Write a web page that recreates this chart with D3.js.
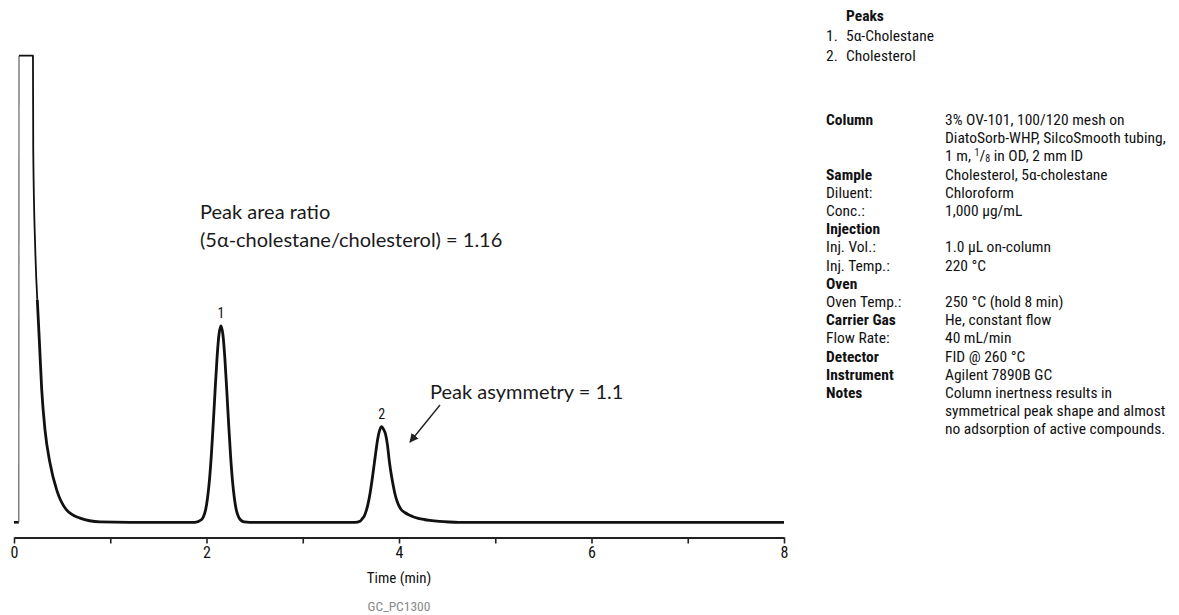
<!DOCTYPE html>
<html>
<head>
<meta charset="utf-8">
<script src="https://cdn.jsdelivr.net/npm/d3@7"></script>
<style>
  html, body { margin: 0; padding: 0; background: #fff; }
  svg { display: block; }
  .cond { font-family: "Liberation Sans Narrow", "Roboto Condensed", Roboto, sans-serif; }
  .note { font-family: Lato, "Open Sans", sans-serif; }
</style>
</head>
<body>
<svg id="chart" width="1179" height="615"></svg>
<script>
// Chromatogram trace: retention time (min) and detector signal (% of plotted full scale)
const traceTime = [
  0, 0.05, 0.052, 0.197, 0.200, 0.221, 0.242, 0.263, 0.288, 0.322, 0.374, 0.444, 0.548, 0.686, 0.894, 1.205,
  1.60, 1.88, 1.95, 1.97, 1.99, 2.01, 2.03, 2.05, 2.07, 2.09, 2.11, 2.13, 2.15, 2.17, 2.19, 2.21, 2.23, 2.25,
  2.27, 2.29, 2.31, 2.33, 2.35, 2.39, 2.45,
  3.00, 3.54, 3.60, 3.62, 3.64, 3.66, 3.68, 3.70, 3.72, 3.74, 3.76, 3.78, 3.80, 3.82, 3.84, 3.86, 3.88, 3.90,
  3.92, 3.94, 3.96, 3.98, 4.00, 4.02, 4.06, 4.10, 4.14, 4.20, 4.26, 4.32, 4.42, 4.52, 4.62, 6.00, 8.00
];
const traceSignal = [
  0, 0, 100, 100, 79.8, 58.4, 47.7, 39.1, 28.4, 19.8, 12.7, 6.9, 2.6, 0.9, 0.1, 0,
  0, 0, 0.6, 1.3, 2.6, 5.1, 8.9, 14.3, 21.1, 28.5, 35.4, 40.3, 42.1, 40.3, 35.4, 28.5, 21.1, 14.3,
  8.9, 5.1, 2.6, 1.3, 0.6, 0.1, 0,
  0, 0, 0.3, 0.8, 1.4, 2.5, 4.1, 6.3, 9.0, 12.1, 15.2, 18.0, 19.8, 20.5, 19.9, 18.9, 16.6, 13.0,
  10.2, 7.9, 5.9, 4.5, 3.5, 2.8, 2.1, 1.6, 1.25, 0.86, 0.6, 0.4, 0.18, 0.06, 0, 0, 0
];

// Numbered peaks
const peakNumbers = ["1", "2"];
const peakTimes = [2.15, 3.82];
const peakHeights = [42.1, 20.5];
const peakNames = ["5α-Cholestane", "Cholesterol"];

// Time axis
const timeTicks = [0, 1, 2, 3, 4, 5, 6, 7, 8];
const timeTickLabels = ["0", "", "2", "", "4", "", "6", "", "8"];

// Method conditions table
const conditionLabels = ["Column", "", "", "Sample", "Diluent:", "Conc.:", "Injection", "Inj. Vol.:", "Inj. Temp.:",
  "Oven", "Oven Temp.:", "Carrier Gas", "Flow Rate:", "Detector", "Instrument", "Notes", "", ""];
const conditionValues = ["3% OV-101, 100/120 mesh on", "DiatoSorb-WHP, SilcoSmooth tubing,", "FRACTION",
  "Cholesterol, 5α-cholestane", "Chloroform", "1,000 µg/mL", "", "1.0 µL on-column", "220 °C",
  "", "250 °C (hold 8 min)", "He, constant flow", "40 mL/min", "FID @ 260 °C", "Agilent 7890B GC",
  "Column inertness results in", "symmetrical peak shape and almost", "no adsorption of active compounds."];
const conditionBold = [true, false, false, true, false, false, true, false, false,
  true, false, true, false, true, true, true, false, false];

const svg = d3.select("#chart");

const x = d3.scaleLinear().domain([0, 8]).range([14, 784]);
const y = d3.scaleLinear().domain([0, 100]).range([522.3, 55.7]);

// x axis
const axisY = 537.5;
const xAxis = d3.axisBottom(x)
  .tickValues(timeTicks)
  .tickFormat((d, i) => timeTickLabels[i])
  .tickSize(6)
  .tickSizeOuter(0)
  .tickPadding(3);

const gx = svg.append("g")
  .attr("transform", `translate(0,${axisY})`)
  .call(xAxis);
gx.select(".domain").attr("stroke", "#222").attr("stroke-width", 1.8);
gx.selectAll(".tick line").attr("stroke", "#222").attr("stroke-width", 1.6);
gx.selectAll(".tick text")
  .attr("class", "cond")
  .attr("font-size", 16)
  .attr("fill", "#111");

svg.append("text")
  .attr("class", "cond")
  .attr("x", 399).attr("y", 583)
  .attr("text-anchor", "middle")
  .attr("font-size", 15)
  .attr("fill", "#111")
  .text("Time (min)");

svg.append("text")
  .attr("class", "cond")
  .attr("x", 399).attr("y", 611)
  .attr("text-anchor", "middle")
  .attr("font-size", 13.5)
  .attr("fill", "#8a8a8a")
  .text("GC_PC1300");

// trace: short baseline lead-in, thin solvent front, then the rest of the signal
const traceData = traceTime.map((t, i) => ({ t, v: traceSignal[i] }));
const line = d3.line()
  .x(d => x(d.t))
  .y(d => y(d.v))
  .curve(d3.curveMonotoneX);

svg.append("path")
  .datum(traceData.slice(0, 2))
  .attr("d", line)
  .attr("fill", "none")
  .attr("stroke", "#111")
  .attr("stroke-width", 2.6);

svg.append("path")
  .datum(traceData.slice(1, 3))
  .attr("d", line)
  .attr("fill", "none")
  .attr("stroke", "#555")
  .attr("stroke-width", 1.1);

svg.append("path")
  .datum(traceData.slice(2, 7))
  .attr("d", line)
  .attr("fill", "none")
  .attr("stroke", "#111")
  .attr("stroke-width", 1.8)
  .attr("stroke-linejoin", "round");

svg.append("path")
  .datum(traceData.slice(6))
  .attr("d", line)
  .attr("fill", "none")
  .attr("stroke", "#111")
  .attr("stroke-width", 2.8)
  .attr("stroke-linejoin", "round");

// peak numbers
svg.selectAll(".peaknum")
  .data(peakNumbers)
  .join("text")
  .attr("class", "cond peaknum")
  .attr("x", (d, i) => x(peakTimes[i]))
  .attr("y", (d, i) => y(peakHeights[i]) - 8)
  .attr("text-anchor", "middle")
  .attr("font-size", 14)
  .attr("fill", "#111")
  .text(d => d);

// annotations
const note = svg.append("text")
  .attr("class", "note")
  .attr("font-size", 20)
  .attr("fill", "#1a1a1a");
note.append("tspan").attr("x", 200).attr("y", 219).text("Peak area ratio");
note.append("tspan").attr("x", 200).attr("y", 247).text("(5α-cholestane/cholesterol) = 1.16");

svg.append("text")
  .attr("class", "note")
  .attr("x", 430).attr("y", 398.5)
  .attr("font-size", 20)
  .attr("fill", "#1a1a1a")
  .text("Peak asymmetry = 1.1");

svg.append("defs").append("marker")
  .attr("id", "arrowhead")
  .attr("viewBox", "0 0 10 10")
  .attr("refX", 9).attr("refY", 5)
  .attr("markerWidth", 9).attr("markerHeight", 9)
  .attr("markerUnits", "userSpaceOnUse")
  .attr("orient", "auto")
  .append("path")
  .attr("d", "M0,0 L10,5 L0,10 z")
  .attr("fill", "#222");

svg.append("line")
  .attr("x1", 440).attr("y1", 405)
  .attr("x2", 410).attr("y2", 442)
  .attr("stroke", "#222")
  .attr("stroke-width", 1.4)
  .attr("marker-end", "url(#arrowhead)");

// peak legend
const legend = svg.append("g").attr("class", "cond").attr("font-size", 15.5).attr("fill", "#111");
legend.append("text").attr("x", 846).attr("y", 21).attr("font-weight", "bold").text("Peaks");
peakNames.forEach((name, i) => {
  legend.append("text").attr("x", 826).attr("y", 41 + i * 20).text(peakNumbers[i] + ".");
  legend.append("text").attr("x", 846).attr("y", 41 + i * 20).text(name);
});

// conditions table
const rowStart = 125, rowGap = 18.2;
const table = svg.append("g").attr("class", "cond").attr("font-size", 15.5).attr("fill", "#111");
conditionLabels.forEach((lab, i) => {
  const yy = rowStart + i * rowGap;
  if (lab) {
    table.append("text").attr("x", 826).attr("y", yy)
      .attr("font-weight", conditionBold[i] ? "bold" : "normal")
      .text(lab);
  }
  const val = conditionValues[i];
  if (val === "FRACTION") {
    const t = table.append("text").attr("x", 945).attr("y", yy);
    t.append("tspan").text("1 m, ");
    t.append("tspan").attr("font-size", 10).attr("dy", -5).text("1");
    t.append("tspan").attr("dy", 5).text("/");
    t.append("tspan").attr("font-size", 10).attr("dy", 1).text("8");
    t.append("tspan").attr("dy", -1).text(" in OD, 2 mm ID");
  } else if (val) {
    table.append("text").attr("x", 945).attr("y", yy).text(val);
  }
});
</script>
</body>
</html>
